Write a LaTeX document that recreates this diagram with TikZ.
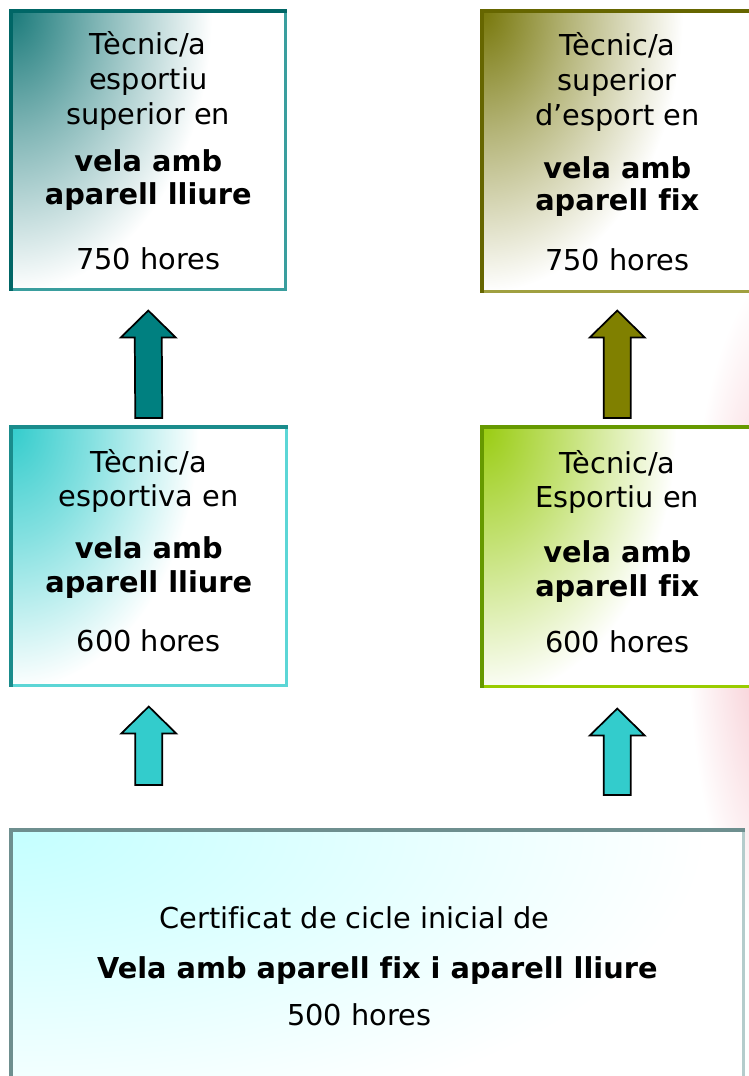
\documentclass[tikz,border=0pt]{standalone}
\usepackage{fontspec}
\setmainfont{DejaVu Sans}[Ligatures=NoCommon]
\usetikzlibrary{calc}

\definecolor{tealfill}{HTML}{1A7A7A}
\definecolor{tealdark}{HTML}{006666}
\definecolor{teallight}{HTML}{3A9E9E}
\definecolor{tealarrow}{HTML}{008080}
\definecolor{olivefill}{HTML}{77770A}
\definecolor{olivedark}{HTML}{666600}
\definecolor{olivelight}{HTML}{A0A040}
\definecolor{olivearrow}{HTML}{808000}
\definecolor{cyanfill}{HTML}{33CCCC}
\definecolor{cyandark}{HTML}{1A8C8C}
\definecolor{cyanlight}{HTML}{5CD6D6}
\definecolor{cyanarrow}{HTML}{33CCCC}
\definecolor{greenfill}{HTML}{99CC11}
\definecolor{greendark}{HTML}{669900}
\definecolor{greenlight}{HTML}{99CC00}
\definecolor{certfill}{HTML}{C4FFFF}
\definecolor{certdark}{HTML}{6E8F8F}
\definecolor{certlight}{HTML}{B4CCCC}
\definecolor{pinkmark}{HTML}{F8D4DA}

\pgfdeclareradialshading{tealfade}{\pgfpointorigin}{color(0bp)=(tealfill); color(65bp)=(tealfill!55!white); color(150bp)=(white); color(330bp)=(white)}
\pgfdeclareradialshading{olivefade}{\pgfpointorigin}{color(0bp)=(olivefill); color(65bp)=(olivefill!55!white); color(150bp)=(white); color(330bp)=(white)}
\pgfdeclareradialshading{cyanfade}{\pgfpointorigin}{color(0bp)=(cyanfill); color(60bp)=(cyanfill!60!white); color(140bp)=(white); color(330bp)=(white)}
\pgfdeclareradialshading{greenfade}{\pgfpointorigin}{color(0bp)=(greenfill); color(60bp)=(greenfill!60!white); color(145bp)=(white); color(330bp)=(white)}
\pgfdeclareradialshading{certfade}{\pgfpointorigin}{color(0bp)=(certfill); color(520bp)=(white); color(800bp)=(white)}
\pgfdeclareradialshading{pinkfade}{\pgfpointorigin}{color(0bp)=(pinkmark); color(25bp)=(pinkmark); color(70bp)=(white); color(80bp)=(white)}

\tikzset{
  fade/.style = {anchor=center, inner sep=0pt, outer sep=0pt, minimum width=0pt,
    minimum height=0pt, draw=none, path picture={}, transform shape},
  box/.style = {anchor=north west, inner sep=0pt, align=center,
    font={\fontsize{21.6}{26.25}\selectfont},
    path picture={\node[fade, yscale=1.4] at (path picture bounding box.north west)
      {\pgfuseshading{#1}};}},
  dark edge/.style = {draw=#1, line width=2.5pt, line cap=rect},
  light edge/.style = {draw=#1, line width=2.5pt, line cap=rect},
  block arrow/.style = {draw=black, line width=1.3pt, fill=#1, line join=miter},
}

% #1 lower point, #2 upper point, #3 colour, #4 gap below, #5 gap above
\newcommand{\blockarrow}[5]{%
  \draw[block arrow=#3]
    ($(#1)+(-13.5,-#4)$) -- ($(#2)+(-13.5,#5+27)$) -- ($(#2)+(-27.5,#5+27)$)
    -- ($(#2)+(0,#5)$) -- ($(#2)+(27.5,#5+27)$) -- ($(#2)+(13.5,#5+27)$)
    -- ($(#1)+(13.5,-#4)$) -- cycle;}

\begin{document}
\begin{tikzpicture}[x=0.75pt, y=-0.75pt]
    \useasboundingbox (0,0) rectangle (749,1076);
    \fill[white] (0,0) rectangle (749,1076);
    \node[fade, yscale=3.6] (mark) at (780,610) {\pgfuseshading{pinkfade}};

    \node[box=tealfade, minimum width=205.5pt, minimum height=208.5pt] (tl) at (11,11)
        {Tècnic/a\\esportiu\\superior en\\[9pt]\textbf{vela amb}\\[-1.5pt]\textbf{aparell lliure}\\[22.5pt]750 hores};
    \node[box=olivefade, minimum width=202.5pt, minimum height=210pt] (tr) at (482,11)
        {Tècnic/a\\superior\\d’esport en\\[13.5pt]\textbf{vela amb}\\[-2.25pt]\textbf{aparell fix}\\[18.75pt]750 hores};
    \node[box=cyanfade, minimum width=206.25pt, minimum height=193.5pt] (ml) at (11,427)
        {Tècnic/a\\[-0.75pt]esportiva en\\[12.75pt]\textbf{vela amb}\\[-0.75pt]\textbf{aparell lliure}\\[18pt]600 hores\\[-18pt]\mbox{}};
    \node[box=greenfade, minimum width=202.5pt, minimum height=194.25pt] (mr) at (482,427)
        {Tècnic/a\\[-0.75pt]Esportiu en\\[15pt]\textbf{vela amb}\\[-0.75pt]\textbf{aparell fix}\\[15.75pt]600 hores\\[-18pt]\mbox{}};
    \node[box=certfade, minimum width=549pt, minimum height=204pt,
        path picture={\node[fade, yscale=0.45] at (path picture bounding box.north west)
            {\pgfuseshading{certfade}};}] (cert) at (11,830)
        {Certificat de cicle inicial de\hspace*{34pt}\\[11.25pt]\textbf{Vela amb aparell fix i aparell lliure}\\[9pt]500 hores\hspace*{27pt}};

    \draw[light edge=teallight] (tl.north east) -- (tl.south east) -- (tl.south west);
    \draw[dark edge=tealdark] (tl.south west) -- (tl.north west) -- (tl.north east);
    \draw[light edge=olivelight] (tr.north east) -- (tr.south east) -- (tr.south west);
    \draw[dark edge=olivedark] (tr.south west) -- (tr.north west) -- (tr.north east);
    \draw[light edge=cyanlight] (ml.north east) -- (ml.south east) -- (ml.south west);
    \draw[dark edge=cyandark] (ml.south west) -- (ml.north west) -- (ml.north east);
    \draw[light edge=greenlight] (mr.north east) -- (mr.south east) -- (mr.south west);
    \draw[dark edge=greendark] (mr.south west) -- (mr.north west) -- (mr.north east);
    \draw[light edge=certlight] (cert.north east) -- (cert.south east) -- (cert.south west);
    \draw[dark edge=certdark] (cert.south west) -- (cert.north west) -- (cert.north east);

    \blockarrow{ml.north}{tl.south}{tealarrow}{9}{21}
    \blockarrow{mr.north}{tr.south}{olivearrow}{9}{19}
    \blockarrow{ml.south |- cert.north}{ml.south}{cyanarrow}{45}{21}
    \blockarrow{mr.south |- cert.north}{mr.south}{cyanarrow}{35}{22}
\end{tikzpicture}
\end{document}
